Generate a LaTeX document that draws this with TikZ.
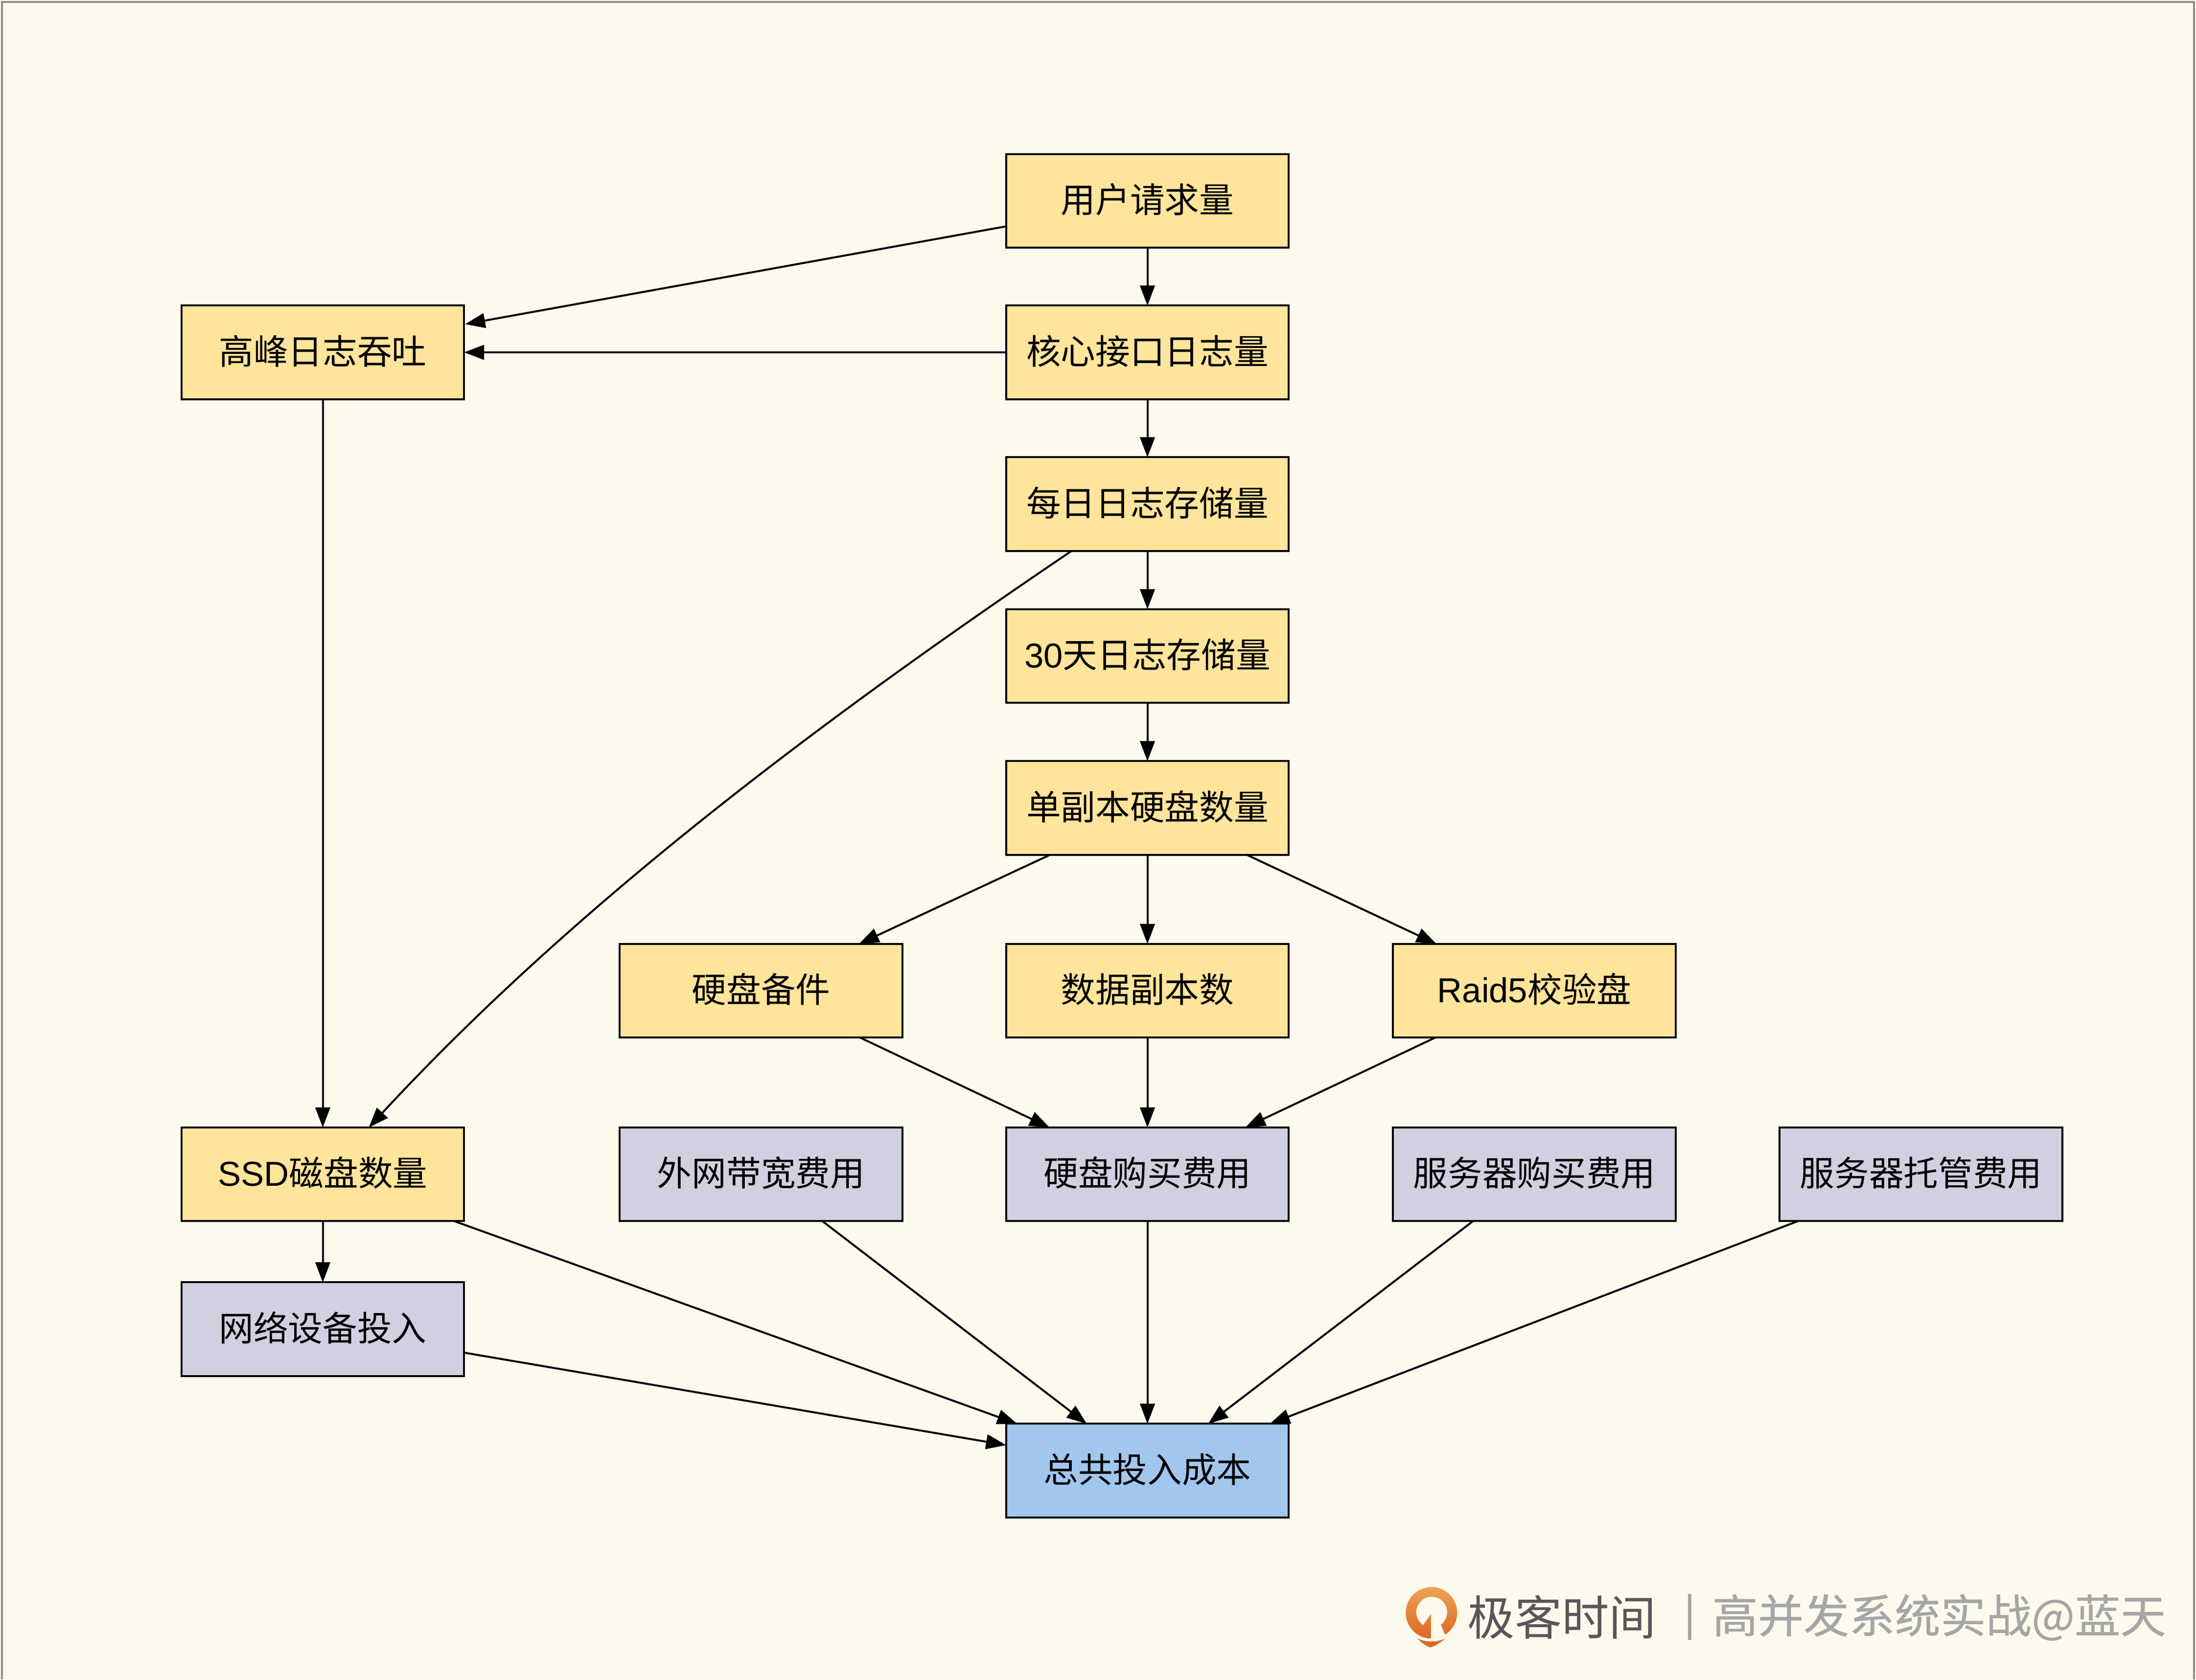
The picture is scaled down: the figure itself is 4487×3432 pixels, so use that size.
\documentclass[tikz,border=0pt]{standalone}
\usepackage{fontspec}
\usetikzlibrary{arrows.meta,calc}
\setmainfont{Liberation Sans}
\newfontfamily\cjk{Noto Sans CJK SC}
\newfontfamily\cjkwm[FakeBold=0.6]{Noto Sans CJK SC}
\newfontfamily\lat{Liberation Sans}
\definecolor{pagebg}{HTML}{FCF9ED}
\definecolor{edgegray}{HTML}{8F8D8B}
\definecolor{boxyellow}{HTML}{FFE49B}
\definecolor{boxviolet}{HTML}{D0D0E0}
\definecolor{boxblue}{HTML}{A2C7EF}
\definecolor{wmdark}{HTML}{58565A}
\definecolor{wmgray}{HTML}{A6A6A6}
\definecolor{logotop}{HTML}{EDA355}
\definecolor{logobot}{HTML}{DD6724}
\tikzset{
  basebox/.style={draw=black,line width=0.04cm,minimum width=5.77cm,minimum height=1.91cm,inner sep=0pt,outer sep=0pt,
    text height=0.6cm,text depth=0.12cm,
    font=\fontsize{20.1}{24}\selectfont\cjk,text=black},
  ybox/.style={basebox,fill=boxyellow},
  vbox/.style={basebox,fill=boxviolet},
  bbox/.style={basebox,fill=boxblue},
  conn/.style={draw=black,line width=0.04cm,-{Triangle[length=0.41cm,width=0.30cm]}},
}
\begin{document}
\begin{tikzpicture}[x=0.01cm,y=-0.01cm]
\useasboundingbox (0,0) rectangle (4487,3432);
\fill[pagebg] (0,0) rectangle (4487,3432);
\draw[edgegray,line width=0.045cm] (4,3432) -- (4,4) -- (4483,4) -- (4483,3432);

\node[ybox] (user) at (2344.5,410.5) {用户请求量};
\node[ybox] (core) at (2344.5,720) {核心接口日志量};
\node[ybox] (daily) at (2344.5,1030) {每日日志存储量};
\node[ybox] (month) at (2344.5,1340.5) {{\lat 30}天日志存储量};
\node[ybox] (single) at (2344.5,1651) {单副本硬盘数量};
\node[ybox] (peak) at (659.5,720) {高峰日志吞吐};
\node[ybox] (spare) at (1555,2024.5) {硬盘备件};
\node[ybox] (replica) at (2344.5,2024.5) {数据副本数};
\node[ybox] (raid) at (3135,2024.5) {{\lat Raid5}校验盘};
\node[ybox] (ssd) at (659.5,2399.5) {{\lat SSD}磁盘数量};
\node[vbox] (wan) at (1555,2399.5) {外网带宽费用};
\node[vbox] (diskcost) at (2344.5,2399.5) {硬盘购买费用};
\node[vbox] (serverbuy) at (3135,2399.5) {服务器购买费用};
\node[vbox] (hosting) at (3925,2399.5) {服务器托管费用};
\node[vbox] (network) at (659.5,2716) {网络设备投入};
\node[bbox] (total) at (2344.5,3005) {总共投入成本};

\draw[conn] ($(user.west)+(0,52)$) -- ($(peak.north east)+(2,38)$);
\draw[conn] (user) -- (core);
\draw[conn] (core) -- (peak);
\draw[conn] (core) -- (daily);
\draw[conn] (peak) -- (ssd);
\draw[conn] ($(daily.south west)+(134,0)$) .. controls (1677,1472) and (1175,1849) .. ($(ssd.north)+(94,0)$);
\draw[conn] (daily) -- (month);
\draw[conn] (month) -- (single);
\draw[conn] ($(single.south west)+(90,0)$) -- ($(spare.north)+(200,0)$);
\draw[conn] (single) -- (replica);
\draw[conn] ($(single.south east)+(-86,0)$) -- ($(raid.north)+(-200,0)$);
\draw[conn] ($(spare.south)+(202,0)$) -- ($(diskcost.north)+(-200,0)$);
\draw[conn] (replica) -- (diskcost);
\draw[conn] ($(raid.south)+(-202,0)$) -- ($(diskcost.north)+(200,0)$);
\draw[conn] (ssd) -- (network);
\draw[conn] ($(ssd.south)+(268,0)$) -- ($(total.north)+(-266,0)$);
\draw[conn] ($(network.east)+(0,48)$) -- ($(total.west)+(0,-52)$);
\draw[conn] ($(wan.south)+(125,0)$) -- ($(total.north)+(-124,0)$);
\draw[conn] (diskcost) -- (total);
\draw[conn] ($(serverbuy.south)+(-125,0)$) -- ($(total.north)+(124,0)$);
\draw[conn] ($(hosting.south)+(-251,0)$) -- ($(total.north)+(250,0)$);

% watermark logo
\begin{scope}[shift={(2850,3220)},x=0.003333cm,y=-0.003333cm]
\shade[top color=logotop,bottom color=logobot]
  (222,385) arc[start angle=91,end angle=418.4,radius=158]
  -- (283,300) arc[start angle=53.4,end angle=-236.3,radius=95]
  -- (222,235) -- cycle;
\fill[logobot] (140,385) .. controls (190,410) and (260,410) .. (310,385)
  .. controls (280,410) and (250,430) .. (218,440)
  .. controls (190,430) and (160,410) .. cycle;
\end{scope}
\node[anchor=west,inner sep=0pt,text=wmdark,font=\fontsize{27.4}{30}\selectfont\cjk] (wmlogo) at (2998,3304) {极客时间};
\coordinate (divtop) at (3452,3257);
\coordinate (divbot) at (3452,3351);
\draw[wmgray,line width=0.07cm] (divtop) -- (divbot);
\node[anchor=west,inner sep=0pt,text=wmgray,font=\fontsize{26.5}{30}\selectfont\cjkwm] (wmtext) at (3498,3305) {高并发系统实战@蓝天};
\end{tikzpicture}
\end{document}
